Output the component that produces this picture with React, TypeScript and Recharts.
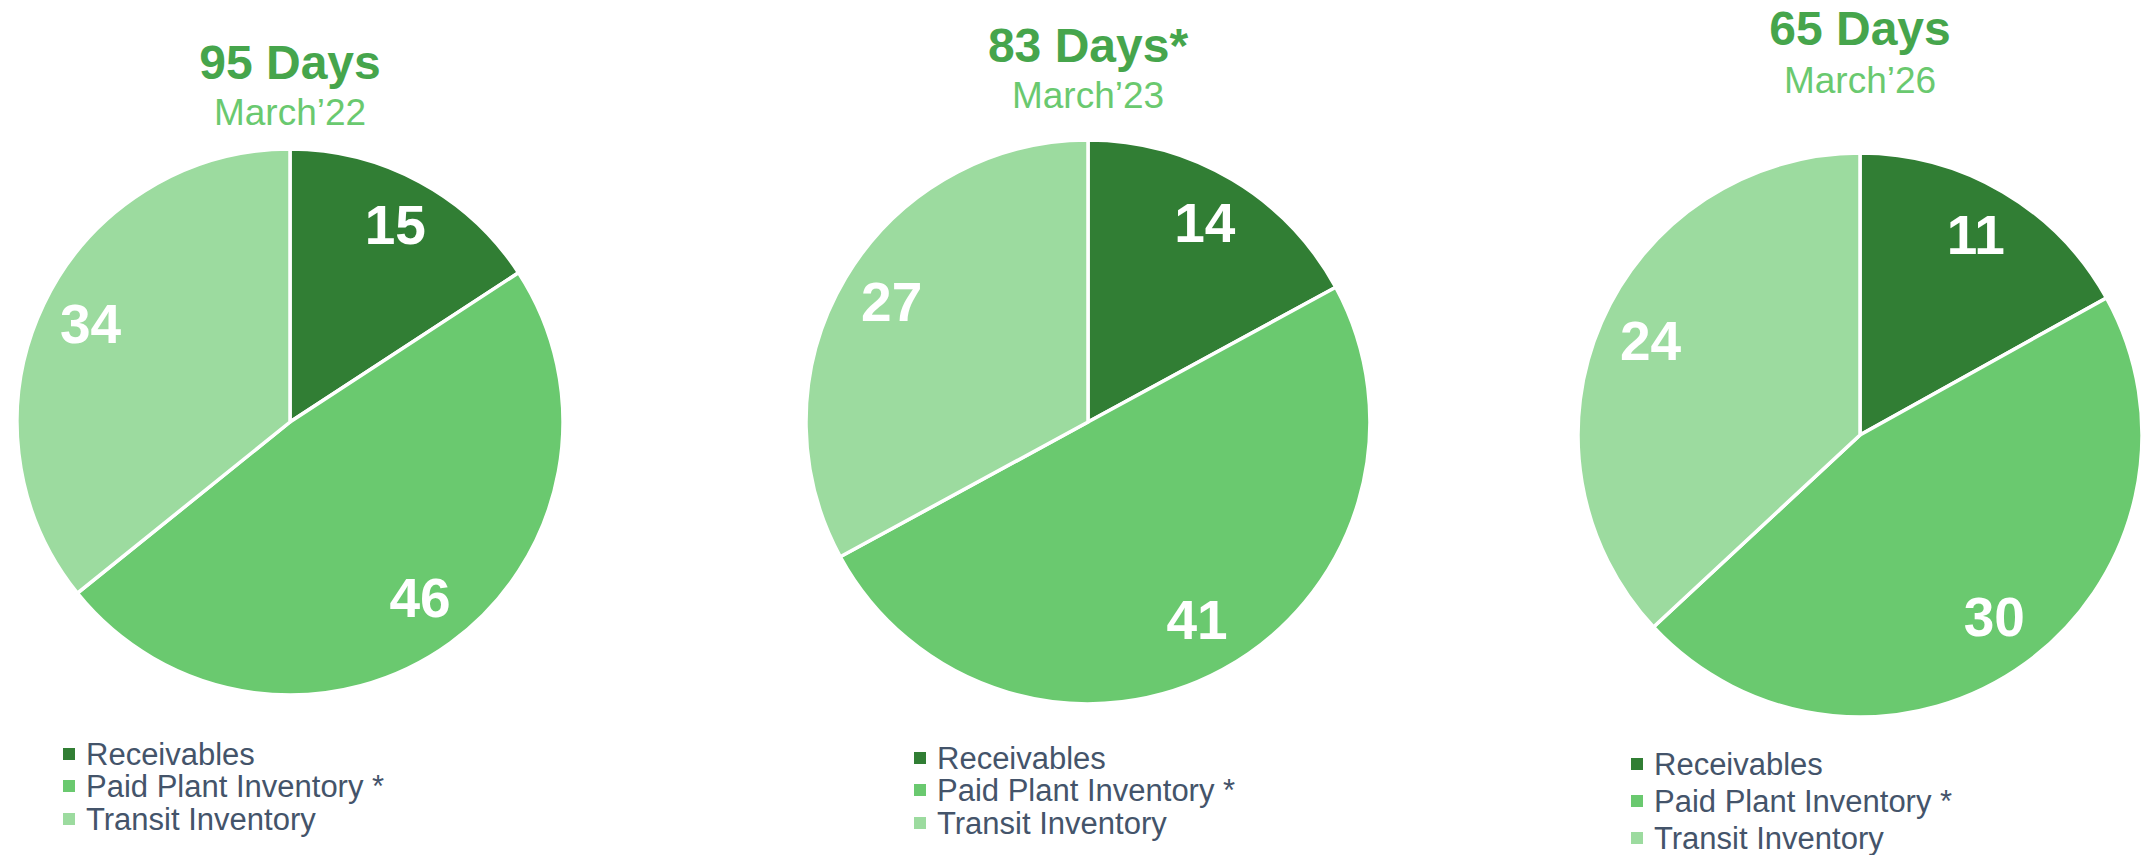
import React from 'react';
import { PieChart, Pie, Cell } from 'recharts';

// segment names and colours
const SEGMENTS = ['Receivables', 'Paid Plant Inventory *', 'Transit Inventory'];
const COLORS = ['#317E34', '#6AC96F', '#9CDB9F'];

// days per segment, one array per period
const MAR22 = [15, 46, 34];
const MAR23 = [14, 41, 27];
const MAR26 = [11, 30, 24];

const TITLES = ['95 Days', '83 Days*', '65 Days'];
const PERIODS = ['March’22', 'March’23', 'March’26'];

const FONT = '"Liberation Sans", Arial, sans-serif';
const RADIAN = Math.PI / 180;

const toRows = (values: number[]) =>
  values.map((value, i) => ({ name: SEGMENTS[i], value }));

// layout for each pie (position, radius, title and legend baselines)
const PIES = [
  { data: toRows(MAR22), cx: 290, cy: 422, r: 273, titleY: 79, subY: 125, legendX: 63, legendY: [765, 797, 830] },
  { data: toRows(MAR23), cx: 1088, cy: 422, r: 282, titleY: 62, subY: 108, legendX: 914, legendY: [769, 801, 834] },
  { data: toRows(MAR26), cx: 1860, cy: 435, r: 282, titleY: 45, subY: 93, legendX: 1631, legendY: [775, 812, 849] },
];

const renderLabel = (props: any) => {
  const { cx, cy, midAngle, outerRadius, value } = props;
  const r = outerRadius * 0.81;
  const x = cx + r * Math.cos(-midAngle * RADIAN);
  const y = cy + r * Math.sin(-midAngle * RADIAN) - 3;
  return (
    <text
      x={x}
      y={y}
      fill="#fff"
      textAnchor="middle"
      dominantBaseline="central"
      fontSize={55}
      fontWeight={700}
      fontFamily={FONT}
    >
      {value}
    </text>
  );
};

export default function App() {
  return (
    <div style={{ position: 'absolute', left: 0, top: 0, width: 2144, height: 855, background: '#fff', overflow: 'hidden' }}>
      <PieChart width={2144} height={855} margin={{ top: 0, right: 0, bottom: 0, left: 0 }}>
        {PIES.map((p, idx) => (
          <Pie
            key={idx}
            data={p.data}
            dataKey="value"
            nameKey="name"
            cx={p.cx}
            cy={p.cy}
            outerRadius={p.r}
            startAngle={90}
            endAngle={-270}
            stroke="#fff"
            strokeWidth={3.5}
            label={renderLabel}
            labelLine={false}
            isAnimationActive={false}
          >
            {p.data.map((d, i) => (
              <Cell key={d.name} fill={COLORS[i]} />
            ))}
          </Pie>
        ))}
      </PieChart>
      <svg width={2144} height={855} style={{ position: 'absolute', left: 0, top: 0, pointerEvents: 'none' }}>
        {PIES.map((p, idx) => (
          <g key={idx} fontFamily={FONT}>
            <text x={p.cx} y={p.titleY} textAnchor="middle" fontSize={48} fontWeight={700} fill="#46A54C">
              {TITLES[idx]}
            </text>
            <text x={p.cx} y={p.subY} textAnchor="middle" fontSize={37} fill="#6AC96F">
              {PERIODS[idx]}
            </text>
            {SEGMENTS.map((s, i) => (
              <g key={s}>
                <rect x={p.legendX} y={p.legendY[i] - 17} width={12} height={12} fill={COLORS[i]} />
                <text x={p.legendX + 23} y={p.legendY[i]} fontSize={31} fill="#44546A">
                  {s}
                </text>
              </g>
            ))}
          </g>
        ))}
      </svg>
    </div>
  );
}
